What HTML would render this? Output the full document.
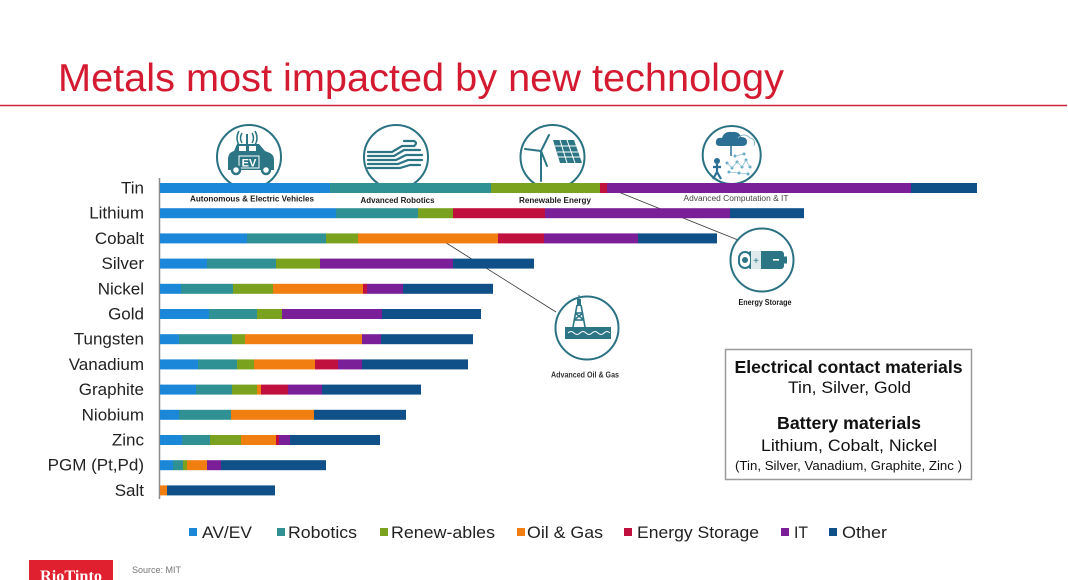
<!DOCTYPE html>
<html><head><meta charset="utf-8"><style>
html,body{margin:0;padding:0;background:#fff;}
svg{display:block;}
</style></head><body>
<svg width="1068" height="580" viewBox="0 0 1068 580" xmlns="http://www.w3.org/2000/svg" font-family="Liberation Sans, Arial, sans-serif">
<rect width="1068" height="580" fill="#fff"/>
<!-- Title -->
<text x="58" y="91" font-size="39" fill="#d41a31" textLength="726" lengthAdjust="spacingAndGlyphs">Metals most impacted by new technology</text>
<line x1="0" y1="105.5" x2="1067" y2="105.5" stroke="#d0243a" stroke-width="1.6"/>

<!-- connector lines -->
<line x1="606" y1="187" x2="738" y2="240" stroke="#333" stroke-width="0.8"/>
<line x1="432" y1="234" x2="556" y2="312" stroke="#333" stroke-width="0.8"/>

<!-- Icon circles -->
<g fill="#fff" stroke="#2a7282" stroke-width="2">
<circle cx="249" cy="157" r="32"/>
<circle cx="396" cy="157" r="32"/>
<circle cx="552.5" cy="157" r="32"/>
<circle cx="731.7" cy="155" r="29"/>
<circle cx="762" cy="260" r="31.5"/>
<circle cx="587" cy="328" r="31.5"/>
</g>

<!-- EV icon -->
<g fill="#2b7585">
<path d="M228,170 L228,158 Q229,152 234,151 L237,144 L259,144 L265,151 L270,153 Q274,155 274,160 L274,170 Z"/>
<rect x="246" y="134" width="2" height="10"/>
</g>
<g fill="none" stroke="#2b7585" stroke-width="1.5">
<path d="M242,133 Q239,138 242,143"/><path d="M252,133 Q255,138 252,143"/>
<path d="M239,131 Q235,138 239,145"/><path d="M255,131 Q259,138 255,145"/>
</g>
<rect x="239" y="146" width="7" height="5" fill="#fff"/>
<rect x="249" y="146" width="7" height="5" fill="#fff"/>
<rect x="239" y="156" width="20" height="12" fill="none" stroke="#fff" stroke-width="1"/>
<text x="249" y="166.5" font-size="11" font-weight="bold" fill="#fff" text-anchor="middle">EV</text>
<circle cx="236" cy="170" r="4" fill="#fff" stroke="#2b7585" stroke-width="2.5"/>
<circle cx="266" cy="170" r="4" fill="#fff" stroke="#2b7585" stroke-width="2.5"/>

<!-- Robotics icon -->
<g stroke="#2b7585" stroke-width="2.2" fill="none" stroke-linecap="round">
<path d="M368,152 L392,152 L402,146 L414,146"/>
<path d="M368,156 L394,156 L404,150 L420,150"/>
<path d="M368,160 L396,160 L406,155 L422,155"/>
<path d="M368,164 L398,164 L408,160 L422,160"/>
<path d="M368,168 L400,168 L410,165 L420,165"/>
<path d="M404,141 L414,141 Q418,143 414,146"/>
</g>

<!-- Renewable icon -->
<g stroke="#2b7585" stroke-width="2" fill="none" stroke-linecap="round">
<line x1="541" y1="151" x2="541" y2="181"/>
<line x1="541" y1="151" x2="549" y2="135"/>
<line x1="541" y1="151" x2="525" y2="149"/>
<line x1="541" y1="151" x2="547" y2="166"/>
</g>
<polygon points="553,140 574,140 582,163 560,163" fill="#2b7585"/>
<g stroke="#fff" stroke-width="1">
<line x1="555" y1="146" x2="576" y2="146"/><line x1="557" y1="152" x2="578" y2="152"/><line x1="558" y1="157" x2="580" y2="157"/>
<line x1="560" y1="140" x2="567" y2="163"/><line x1="567" y1="140" x2="575" y2="163"/>
</g>

<!-- Computation icon -->
<path d="M720,146 Q715,146 716,141 Q717,137 722,138 Q724,131 732,132 Q739,131 741,137 Q747,137 747,142 Q747,146 742,146 Z" fill="#2b6f95"/>
<path d="M738,138 Q744,132 750,138 Q756,139 754,146" fill="none" stroke="#8fb5c8" stroke-width="1"/>
<line x1="731" y1="146" x2="731" y2="156" stroke="#2b6f95" stroke-width="1.5"/>
<circle cx="717" cy="161" r="3" fill="#2b6f95"/>
<path d="M717,164 L717,172 L713,179 M717,172 L721,179 M713,167 L721,167" stroke="#2b6f95" stroke-width="2.2" fill="none"/>
<g fill="#5fa8c4">
<circle cx="727" cy="163" r="1.5"/><circle cx="732" cy="168" r="1.5"/><circle cx="737" cy="162" r="1.5"/><circle cx="742" cy="167" r="1.5"/><circle cx="746" cy="160" r="1.5"/><circle cx="750" cy="167" r="1.5"/><circle cx="729" cy="172" r="1.5"/><circle cx="739" cy="173" r="1.5"/><circle cx="748" cy="174" r="1.5"/><circle cx="735" cy="156" r="1.5"/><circle cx="744" cy="154" r="1.5"/>
</g>
<g stroke="#8fc0d4" stroke-width="0.8" fill="none"><path d="M727,163 L732,168 L737,162 L742,167 L746,160 L750,167 M729,172 L739,173 L748,174 M735,156 L744,154"/></g>

<!-- Battery icon -->
<rect x="748" y="251" width="36" height="18" rx="3" fill="#2b7585"/>
<rect x="784" y="256.5" width="3" height="7" fill="#2b7585"/>
<rect x="739" y="252" width="12" height="16" rx="6" fill="#fff" stroke="#2b7585" stroke-width="2"/>
<circle cx="745" cy="260" r="3" fill="#2b7585"/>
<text x="756" y="264" font-size="10" fill="#2b7585" text-anchor="middle">+</text>
<rect x="773" y="259" width="6" height="1.6" fill="#fff"/>
<rect x="751" y="251" width="10" height="18" fill="#fff" opacity="0.85"/>
<text x="756" y="264" font-size="10" fill="#2b7585" text-anchor="middle">+</text>

<!-- Oil rig icon -->
<rect x="565" y="327" width="46" height="12" fill="#2b7585"/>
<path d="M568,333 q3,-3 6,0 t6,0 t6,0 t6,0 t6,0 t6,0 t6,0" fill="none" stroke="#fff" stroke-width="1"/>
<g stroke="#2b7585" stroke-width="1.6" fill="none">
<line x1="573" y1="327" x2="577" y2="305"/><line x1="585" y1="327" x2="581" y2="305"/>
<line x1="574" y1="320" x2="584" y2="320"/><line x1="575" y1="313" x2="583" y2="313"/>
<line x1="574" y1="320" x2="583" y2="313"/><line x1="584" y1="320" x2="575" y2="313"/>
</g>
<rect x="577" y="299" width="4" height="7" fill="#2b7585"/>
<line x1="579" y1="295" x2="579" y2="300" stroke="#2b7585" stroke-width="1"/>

<!-- Axis -->
<line x1="159.5" y1="178" x2="159.5" y2="499" stroke="#8a8a8a" stroke-width="1.5"/>

<!-- Bars -->
<g>
<!-- Tin y=183 -->
<rect x="160" y="183" width="170" height="10" fill="#1b87d9"/>
<rect x="330" y="183" width="161" height="10" fill="#2f9194"/>
<rect x="491" y="183" width="109" height="10" fill="#7aa21e"/>
<rect x="600" y="183" width="7" height="10" fill="#c0113e"/>
<rect x="607" y="183" width="304" height="10" fill="#7a1f98"/>
<rect x="911" y="183" width="66" height="10" fill="#0f5088"/>
<!-- Lithium y=208.2 -->
<rect x="160" y="208.2" width="176" height="10" fill="#1b87d9"/>
<rect x="336" y="208.2" width="82" height="10" fill="#2f9194"/>
<rect x="418" y="208.2" width="35" height="10" fill="#7aa21e"/>
<rect x="453" y="208.2" width="92" height="10" fill="#c0113e"/>
<rect x="545" y="208.2" width="185" height="10" fill="#7a1f98"/>
<rect x="730" y="208.2" width="74" height="10" fill="#0f5088"/>
<!-- Cobalt y=233.4 -->
<rect x="160" y="233.4" width="87" height="10" fill="#1b87d9"/>
<rect x="247" y="233.4" width="79" height="10" fill="#2f9194"/>
<rect x="326" y="233.4" width="32" height="10" fill="#7aa21e"/>
<rect x="358" y="233.4" width="140" height="10" fill="#f07e10"/>
<rect x="498" y="233.4" width="46" height="10" fill="#c0113e"/>
<rect x="544" y="233.4" width="94" height="10" fill="#7a1f98"/>
<rect x="638" y="233.4" width="79" height="10" fill="#0f5088"/>
<!-- Silver y=258.6 -->
<rect x="160" y="258.6" width="47" height="10" fill="#1b87d9"/>
<rect x="207" y="258.6" width="69" height="10" fill="#2f9194"/>
<rect x="276" y="258.6" width="44" height="10" fill="#7aa21e"/>
<rect x="320" y="258.6" width="133" height="10" fill="#7a1f98"/>
<rect x="453" y="258.6" width="81" height="10" fill="#0f5088"/>
<!-- Nickel y=283.8 -->
<rect x="160" y="283.8" width="21" height="10" fill="#1b87d9"/>
<rect x="181" y="283.8" width="52" height="10" fill="#2f9194"/>
<rect x="233" y="283.8" width="40" height="10" fill="#7aa21e"/>
<rect x="273" y="283.8" width="90" height="10" fill="#f07e10"/>
<rect x="363" y="283.8" width="4" height="10" fill="#c0113e"/>
<rect x="367" y="283.8" width="36" height="10" fill="#7a1f98"/>
<rect x="403" y="283.8" width="90" height="10" fill="#0f5088"/>
<!-- Gold y=309 -->
<rect x="160" y="309" width="49" height="10" fill="#1b87d9"/>
<rect x="209" y="309" width="48" height="10" fill="#2f9194"/>
<rect x="257" y="309" width="25" height="10" fill="#7aa21e"/>
<rect x="282" y="309" width="100" height="10" fill="#7a1f98"/>
<rect x="382" y="309" width="99" height="10" fill="#0f5088"/>
<!-- Tungsten y=334.2 -->
<rect x="160" y="334.2" width="19" height="10" fill="#1b87d9"/>
<rect x="179" y="334.2" width="53" height="10" fill="#2f9194"/>
<rect x="232" y="334.2" width="13" height="10" fill="#7aa21e"/>
<rect x="245" y="334.2" width="117" height="10" fill="#f07e10"/>
<rect x="362" y="334.2" width="19" height="10" fill="#7a1f98"/>
<rect x="381" y="334.2" width="92" height="10" fill="#0f5088"/>
<!-- Vanadium y=359.4 -->
<rect x="160" y="359.4" width="38" height="10" fill="#1b87d9"/>
<rect x="198" y="359.4" width="39" height="10" fill="#2f9194"/>
<rect x="237" y="359.4" width="17" height="10" fill="#7aa21e"/>
<rect x="254" y="359.4" width="61" height="10" fill="#f07e10"/>
<rect x="315" y="359.4" width="23" height="10" fill="#c0113e"/>
<rect x="338" y="359.4" width="24" height="10" fill="#7a1f98"/>
<rect x="362" y="359.4" width="106" height="10" fill="#0f5088"/>
<!-- Graphite y=384.6 -->
<rect x="160" y="384.6" width="36" height="10" fill="#1b87d9"/>
<rect x="196" y="384.6" width="36" height="10" fill="#2f9194"/>
<rect x="232" y="384.6" width="25" height="10" fill="#7aa21e"/>
<rect x="257" y="384.6" width="4" height="10" fill="#f07e10"/>
<rect x="261" y="384.6" width="27" height="10" fill="#c0113e"/>
<rect x="288" y="384.6" width="34" height="10" fill="#7a1f98"/>
<rect x="322" y="384.6" width="99" height="10" fill="#0f5088"/>
<!-- Niobium y=409.8 -->
<rect x="160" y="409.8" width="19" height="10" fill="#1b87d9"/>
<rect x="179" y="409.8" width="52" height="10" fill="#2f9194"/>
<rect x="231" y="409.8" width="83" height="10" fill="#f07e10"/>
<rect x="314" y="409.8" width="92" height="10" fill="#0f5088"/>
<!-- Zinc y=435 -->
<rect x="160" y="435" width="22" height="10" fill="#1b87d9"/>
<rect x="182" y="435" width="28" height="10" fill="#2f9194"/>
<rect x="210" y="435" width="31" height="10" fill="#7aa21e"/>
<rect x="241" y="435" width="35" height="10" fill="#f07e10"/>
<rect x="276" y="435" width="3" height="10" fill="#c0113e"/>
<rect x="279" y="435" width="11" height="10" fill="#7a1f98"/>
<rect x="290" y="435" width="90" height="10" fill="#0f5088"/>
<!-- PGM y=460.2 -->
<rect x="160" y="460.2" width="13" height="10" fill="#1b87d9"/>
<rect x="173" y="460.2" width="10" height="10" fill="#2f9194"/>
<rect x="183" y="460.2" width="4" height="10" fill="#7aa21e"/>
<rect x="187" y="460.2" width="20" height="10" fill="#f07e10"/>
<rect x="207" y="460.2" width="14" height="10" fill="#7a1f98"/>
<rect x="221" y="460.2" width="105" height="10" fill="#0f5088"/>
<!-- Salt y=485.4 -->
<rect x="160" y="485.4" width="7" height="10" fill="#f07e10"/>
<rect x="167" y="485.4" width="108" height="10" fill="#0f5088"/>
</g>

<!-- Row labels -->
<g font-size="17" fill="#222" text-anchor="end">
<text x="144" y="193.5">Tin</text>
<text x="144" y="218.7">Lithium</text>
<text x="144" y="243.9">Cobalt</text>
<text x="144" y="269.1">Silver</text>
<text x="144" y="294.3">Nickel</text>
<text x="144" y="319.5">Gold</text>
<text x="144" y="344.7">Tungsten</text>
<text x="144" y="369.9">Vanadium</text>
<text x="144" y="395.1">Graphite</text>
<text x="144" y="420.3">Niobium</text>
<text x="144" y="445.5">Zinc</text>
<text x="144" y="470.7">PGM (Pt,Pd)</text>
<text x="144" y="495.9">Salt</text>
</g>

<!-- Icon labels -->
<g font-size="8" font-weight="bold" fill="#1a1a1a" text-anchor="middle">
<text x="252" y="201.5" textLength="124" lengthAdjust="spacingAndGlyphs">Autonomous &amp; Electric Vehicles</text>
<text x="397.5" y="203" textLength="74" lengthAdjust="spacingAndGlyphs">Advanced Robotics</text>
<text x="555" y="203" textLength="72" lengthAdjust="spacingAndGlyphs">Renewable Energy</text>
<text x="765" y="305" textLength="53" lengthAdjust="spacingAndGlyphs">Energy Storage</text>
</g>
<g font-size="8" fill="#333" text-anchor="middle" font-weight="bold">
<text x="736" y="201" textLength="105" lengthAdjust="spacingAndGlyphs" fill="#444" font-weight="normal">Advanced Computation &amp; IT</text>
<text x="585" y="377.5" textLength="68" lengthAdjust="spacingAndGlyphs">Advanced Oil &amp; Gas</text>
</g>

<!-- Info box -->
<rect x="725.5" y="349.5" width="246" height="130" fill="#fff" stroke="#9a9a9a" stroke-width="1.5"/>
<g fill="#111" text-anchor="middle">
<text x="848.5" y="373" font-size="17.5" font-weight="bold" textLength="228" lengthAdjust="spacingAndGlyphs">Electrical contact materials</text>
<text x="849.5" y="393" font-size="17" textLength="123" lengthAdjust="spacingAndGlyphs">Tin, Silver, Gold</text>
<text x="849" y="429" font-size="17.5" font-weight="bold" textLength="144" lengthAdjust="spacingAndGlyphs">Battery materials</text>
<text x="849" y="451" font-size="17" textLength="176" lengthAdjust="spacingAndGlyphs">Lithium, Cobalt, Nickel</text>
<text x="848.5" y="470" font-size="13" textLength="227" lengthAdjust="spacingAndGlyphs">(Tin, Silver, Vanadium, Graphite, Zinc )</text>
</g>

<!-- Legend -->
<g font-size="17" fill="#222">
<rect x="189" y="528" width="8" height="8" fill="#1b87d9"/>
<text x="202" y="538" textLength="50" lengthAdjust="spacingAndGlyphs">AV/EV</text>
<rect x="277" y="528" width="8" height="8" fill="#2f9194"/>
<text x="288" y="538" textLength="69" lengthAdjust="spacingAndGlyphs">Robotics</text>
<rect x="380" y="528" width="8" height="8" fill="#7aa21e"/>
<text x="391" y="538" textLength="104" lengthAdjust="spacingAndGlyphs">Renew-ables</text>
<rect x="517" y="528" width="8" height="8" fill="#f07e10"/>
<text x="527" y="538" textLength="76" lengthAdjust="spacingAndGlyphs">Oil &amp; Gas</text>
<rect x="624" y="528" width="8" height="8" fill="#c0113e"/>
<text x="637" y="538" textLength="122" lengthAdjust="spacingAndGlyphs">Energy Storage</text>
<rect x="781" y="528" width="8" height="8" fill="#7a1f98"/>
<text x="794" y="538" textLength="14" lengthAdjust="spacingAndGlyphs">IT</text>
<rect x="829" y="528" width="8" height="8" fill="#0f5088"/>
<text x="842" y="538" textLength="45" lengthAdjust="spacingAndGlyphs">Other</text>
</g>

<!-- Footer -->
<rect x="29" y="560" width="84" height="20" fill="#e0202f"/>
<text x="40" y="581" font-family="Liberation Serif, serif" font-size="16" font-weight="bold" fill="#fff" textLength="62" lengthAdjust="spacingAndGlyphs">RioTinto</text>
<text x="132" y="573" font-size="9" fill="#777">Source: MIT</text>
</svg>
</body></html>
